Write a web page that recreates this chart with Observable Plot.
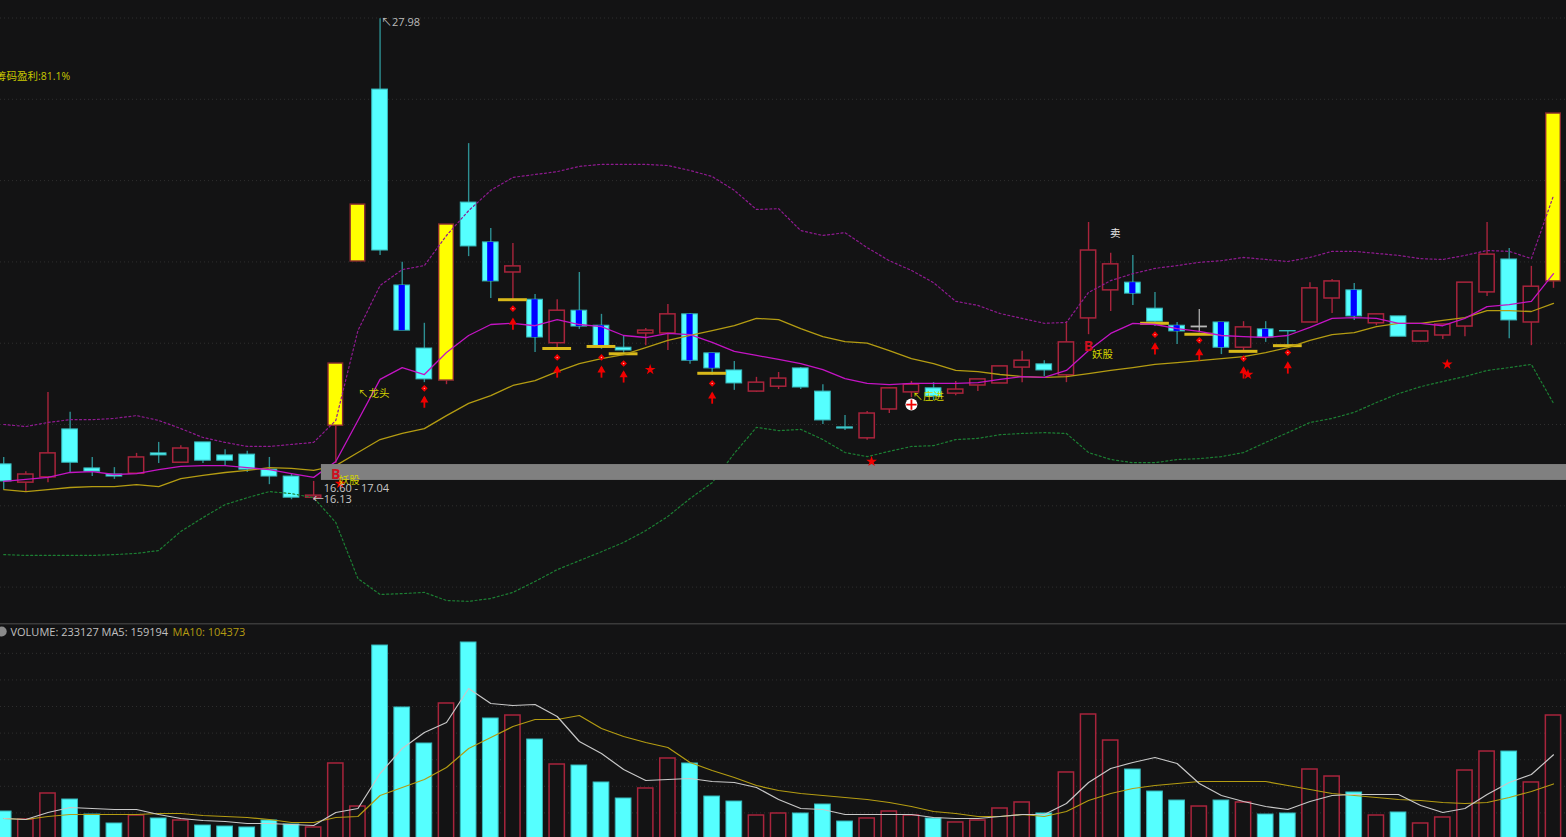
<!DOCTYPE html>
<html><head><meta charset="utf-8">
<script src="https://cdn.jsdelivr.net/npm/d3@7"></script>
<script src="https://cdn.jsdelivr.net/npm/@observablehq/plot@0.6"></script>
<style>
html,body{margin:0;padding:0;background:#131314;overflow:hidden}
svg{display:block}
</style></head><body>
<div id="chart"></div>
<script>
const open_=[17.02,16.57,16.70,17.88,16.92,16.77,16.79,17.29,17.06,17.56,
17.24,17.26,16.89,16.72,16.20,17.97,22.01,26.24,21.42,19.87,
19.08,23.46,22.48,21.74,21.07,20.00,20.80,20.43,19.89,20.24,
20.24,20.71,19.75,19.33,18.81,18.93,19.38,18.81,17.93,17.66,
18.37,18.79,18.89,18.76,18.96,19.01,19.40,19.48,19.21,20.61,
21.30,21.49,20.85,20.43,20.39,20.51,19.89,20.34,20.30,20.51,
21.10,21.30,20.49,20.66,20.04,20.19,20.41,21.25,22.06,20.51,21.52];
const close_=[16.60,16.77,17.29,17.06,16.84,16.72,17.19,17.24,17.41,17.11,
17.11,16.89,16.72,16.20,16.25,19.50,23.41,22.28,20.31,19.11,
22.92,22.38,21.52,21.89,20.14,20.80,20.41,19.92,19.82,20.31,
20.71,19.57,19.38,19.01,19.03,19.13,18.91,18.10,17.90,18.27,
18.89,18.98,18.69,18.86,19.11,19.43,19.57,19.33,20.02,22.28,
21.94,21.22,20.53,20.29,20.41,19.89,20.39,20.14,20.29,21.35,
21.52,20.66,20.71,20.16,20.29,20.46,21.49,22.18,20.56,21.39,25.65];
const high_=[17.19,16.84,18.79,18.30,17.19,16.94,17.29,17.56,17.48,17.56,
17.38,17.34,17.19,16.79,16.60,19.50,23.41,27.98,21.99,20.49,
22.92,24.91,22.82,22.45,21.20,21.07,21.74,20.71,20.19,20.36,
20.95,20.73,19.75,19.55,19.16,19.28,19.40,18.98,18.22,18.32,
18.91,19.06,19.03,19.06,19.11,19.43,19.80,19.57,20.53,22.97,
22.21,22.16,21.25,20.51,20.83,20.51,20.53,20.53,20.30,21.49,
21.57,21.47,20.71,20.66,20.29,20.46,21.49,22.97,22.33,21.89,25.65];
const low_=[16.40,16.33,16.57,16.82,16.72,16.65,16.79,17.04,17.06,17.04,
16.99,16.82,16.52,16.15,16.13,17.04,22.01,22.16,20.31,19.03,
18.98,22.13,21.10,21.07,19.77,19.87,20.34,19.85,19.75,19.94,
19.82,19.48,19.21,18.84,18.79,18.86,18.86,18.00,17.85,17.61,
18.27,18.66,18.59,18.71,18.81,19.01,19.03,19.18,19.03,20.21,
20.78,20.93,20.41,19.97,20.26,19.72,19.82,20.02,19.94,20.51,
20.73,20.56,20.43,20.16,20.02,20.09,20.16,21.15,20.11,19.94,21.35];
const ma5Line=[16.60,16.65,16.70,16.82,16.84,16.77,16.79,16.89,16.97,16.99,
16.99,16.94,16.89,16.79,16.70,17.09,18.10,19.11,19.40,19.23,
19.77,20.19,20.46,20.49,20.43,20.58,20.46,20.41,20.19,20.14,
20.24,20.21,20.02,19.80,19.70,19.60,19.50,19.35,19.13,19.01,
18.98,19.01,19.01,19.01,19.03,19.11,19.18,19.16,19.33,19.82,
20.24,20.49,20.46,20.36,20.29,20.19,20.16,20.14,20.19,20.39,
20.61,20.63,20.61,20.49,20.49,20.43,20.61,20.90,20.95,21.03,21.71];
const ma20Line=[16.40,16.35,16.40,16.45,16.47,16.47,16.52,16.47,16.67,16.75,
16.82,16.87,16.94,16.92,16.87,16.99,17.31,17.63,17.78,17.90,
18.22,18.52,18.71,18.96,19.08,19.30,19.50,19.62,19.72,19.89,
20.07,20.19,20.31,20.43,20.61,20.58,20.36,20.16,20.04,20.00,
19.82,19.62,19.50,19.33,19.30,19.23,19.18,19.16,19.18,19.25,
19.33,19.40,19.48,19.52,19.57,19.62,19.67,19.77,19.89,20.07,
20.21,20.26,20.41,20.49,20.49,20.56,20.63,20.80,20.80,20.78,20.98];
const upperBand=[18.00,17.95,18.05,18.12,18.12,18.15,18.22,18.10,17.90,17.68,
17.56,17.46,17.46,17.51,17.56,18.10,20.31,21.42,21.81,21.91,
22.65,23.26,23.76,24.08,24.15,24.22,24.35,24.40,24.40,24.40,
24.37,24.25,24.10,23.76,23.29,23.31,22.77,22.65,22.72,22.35,
22.03,21.79,21.49,21.03,20.93,20.73,20.61,20.49,20.51,21.25,
21.54,21.71,21.84,21.91,21.99,22.03,22.11,22.06,22.01,22.11,
22.26,22.26,22.21,22.16,22.08,22.06,22.16,22.28,22.26,22.08,23.63];
const lowerBand=[14.80,14.78,14.78,14.78,14.78,14.80,14.83,14.90,15.37,15.71,
16.03,16.20,16.35,16.30,16.20,15.59,14.21,13.82,13.84,13.87,
13.67,13.65,13.72,13.87,14.14,14.43,14.65,14.87,15.10,15.39,
15.74,16.18,16.57,17.29,17.93,17.85,17.88,17.63,17.31,17.21,
17.34,17.46,17.48,17.63,17.66,17.75,17.78,17.80,17.78,17.31,
17.14,17.06,17.06,17.14,17.16,17.21,17.31,17.56,17.80,18.05,
18.15,18.30,18.54,18.76,18.93,19.06,19.18,19.33,19.40,19.48,18.52];
const volumeK=[52.6,37.6,86.5,75.2,47,30.1,45.1,39.5,35.7,26.3,
24.4,22.6,35.7,28.2,22.6,142.9,62,364.7,248.2,180.5,
255.7,370.4,227.5,233.1,188,141,139.1,107.2,77.1,95.9,
152.3,142.9,80.8,71.4,45.1,48.9,48.9,65.8,33.8,39.5,
52.6,45.1,39.5,32,35.7,58.3,69.6,48.9,126,235,
186.1,131.6,90.2,73.3,62,73.3,69.6,47,48.9,131.6,
118.4,88.4,45.1,50.8,30.1,41.4,129.7,165.4,165.4,107.2,233.127];
const volMa5K=[39.5,37.6,50.8,60.2,58.3,56.4,56.4,47,39.5,35.7,
33.8,30.1,30.1,28.2,26.3,50.8,58.3,124.1,171.1,201.2,
220,283.9,255.7,251.9,253.8,231.2,184.2,161.7,131.6,110.9,
112.8,114.7,109,107.2,97.8,75.2,58.3,56.4,47,47,
47,47,41.4,39.5,39.5,43.2,47,47,67.7,107.2,
133.5,144.8,154.2,142.9,105.3,82.7,71.4,62,56.4,71.4,
82.7,84.6,84.6,84.6,63.9,50.8,58.3,84.6,107.2,122.2,159.194];
const volMa10K=[39.5,37.6,43.2,47,47,47,47,48.9,48.9,45.1,
43.2,41.4,37.6,32,32,41.4,43.2,82.7,97.8,112.8,
135.4,171.1,191.8,212.4,225.6,225.6,233.1,208.7,193.6,182.4,
173,144.8,129.7,116.6,101.5,92.1,86.5,82.7,79,75.2,
69.6,62,52.6,48.9,43.2,43.2,47,43.2,52.6,73.3,
86.5,95.9,101.5,105.3,109,109,109,109,101.5,94,
86.5,82.7,79,75.2,73.3,69.6,67.7,69.6,79,90.2,104.373];
const yellowCandles=[15,16,20,70];
const blueCandles=[18,22,24,26,27,31,32,51,53,55,57,61];
const grayCandles=[54];
const goldBarIdx=[23,25,27,28,32,52,54,56,58];
const goldBarPrice=[21.07,19.87,19.92,19.74,19.26,20.49,20.22,19.80,19.94];
const diamondIdx=[19,23,25,27,28,32,52,54,56,58];
const diamondPrice=[18.89,20.85,19.65,19.65,19.50,19.01,20.21,20.07,19.62,19.77];
const arrowIdx=[19,23,25,27,28,32,52,54,56,58];
const arrowTip=[18.66,20.58,19.40,19.40,19.28,18.76,19.97,19.82,19.38,19.50];
const starIdx=[15.2,29.2,39.2,56.2,65.2];
const starPrice=[16.55,19.35,17.09,19.23,19.48];
const costBand=[16.60,17.04];
const priceGrid=[14,16,18,20,22,24,26,28];
const volGrid=[50,100,150,200,250,300,350];

const BG="#131314",CYAN="#55ffff",RED="#a8243c",WUP="#a8243c",TEAL="#2d8f92",FONT="'Open Sans','Noto Sans CJK SC',sans-serif";
const rows=open_.map((o,i)=>({i,o,c:close_[i],h:high_[i],l:low_[i],v:volumeK[i],up:close_[i]>=o,
  m5:ma5Line[i],m20:ma20Line[i],u:upperBand[i],d:lowerBand[i],v5:volMa5K[i],v10:volMa10K[i]}));
const isY=d=>yellowCandles.includes(d.i), isG=d=>grayCandles.includes(d.i);
const ups=rows.filter(d=>d.up&&!isY(d)&&!isG(d)), downs=rows.filter(d=>!d.up), yellows=rows.filter(isY), grays=rows.filter(isG);
const blues=rows.filter(d=>blueCandles.includes(d.i));
const goldBars=goldBarIdx.map((i,k)=>({i,p:goldBarPrice[k]}));
const diamonds=diamondIdx.map((i,k)=>({i,p:diamondPrice[k]}));
const arrows=arrowIdx.map((i,k)=>({i,p:arrowTip[k]}));
const stars=starIdx.map((i,k)=>({i,p:starPrice[k]}));
const xScale={type:"linear",domain:[0,70],range:[3.2,1553],axis:null};
const half=d=>({x1:e=>e.i-d,x2:e=>e.i+d});
const label=(text,i,p,o)=>Plot.text([{i,p}],{x:"i",y:"p",text:()=>text,lineAnchor:"middle",...o});

const price=Plot.plot({width:1566,height:623,margin:0,x:xScale,
 y:{type:"linear",domain:[28.4305,13.105],range:[0,623],axis:null},
 style:{background:BG,fontFamily:FONT},
 marks:[
  Plot.ruleY(priceGrid,{stroke:"#2f2f2f",strokeDasharray:"1 3",strokeWidth:1}),
  Plot.ruleX(ups,{x:"i",y1:"l",y2:"h",stroke:WUP,strokeWidth:1.4}),
  Plot.ruleX(yellows,{x:"i",y1:"l",y2:"h",stroke:WUP,strokeWidth:1.4}),
  Plot.ruleX(downs,{x:"i",y1:"l",y2:"h",stroke:TEAL,strokeWidth:1.4}),
  Plot.ruleX(grays,{x:"i",y1:"l",y2:"h",stroke:"#b8b8b8",strokeWidth:1.2}),
  Plot.rect(ups,{...half(.345),y1:"o",y2:"c",fill:BG,stroke:RED,strokeWidth:1.5}),
  Plot.rect(grays,{...half(.345),y1:"o",y2:"c",fill:"#b8b8b8",stroke:"#b8b8b8",strokeWidth:1}),
  Plot.rect(downs,{...half(.355),y1:"o",y2:"c",fill:CYAN,stroke:"#37b8bb",strokeWidth:1}),
  Plot.rect(yellows,{...half(.33),y1:"o",y2:"c",fill:"#ffff00",stroke:"#8a2a30",strokeWidth:1.4}),
  Plot.rect(blues,{...half(.14),y1:"o",y2:"c",fill:"#0000ff"}),
  Plot.ruleY(goldBars,{y:"p",x1:d=>d.i-.65,x2:d=>d.i+.65,stroke:"#d9b91a",strokeWidth:3}),
  Plot.line(rows,{x:"i",y:"u",stroke:"#8f1a90",strokeWidth:1.2,strokeDasharray:"2 2.5"}),
  Plot.line(rows,{x:"i",y:"d",stroke:"#1c7f33",strokeWidth:1.2,strokeDasharray:"2 2.5"}),
  Plot.line(rows,{x:"i",y:"m20",stroke:"#b49c12",strokeWidth:1.3}),
  Plot.line(rows,{x:"i",y:"m5",stroke:"#c414c4",strokeWidth:1.3}),
  Plot.rect([0],{x1:()=>14.35,x2:()=>71.5,y1:()=>costBand[0],y2:()=>costBand[1],fill:"#808080",insetTop:1,insetBottom:1}),
  Plot.dot(diamonds,{x:"i",y:"p",symbol:"diamond2",r:3,fill:"#f00000"}),
  Plot.dot(diamonds,{x:"i",y:"p",r:.7,fill:"#ffb0b0"}),
  Plot.ruleX(arrows,{x:"i",y1:"p",y2:d=>d.p-.26,stroke:"#f00000",strokeWidth:1.8}),
  Plot.dot(arrows,{x:"i",y:"p",dy:2.5,symbol:"triangle",r:3,fill:"#f00000"}),
  Plot.dot(stars,{x:"i",y:"p",symbol:"star",r:3.4,fill:"#f00000"}),
  Plot.dot([0],{x:()=>41,y:()=>18.49,r:6,fill:"#fff"}),
  Plot.dot([0],{x:()=>41,y:()=>18.49,symbol:"plus",r:3.4,stroke:"#f00000",strokeWidth:1.8}),
  label("筹码盈利:81.1%",3,26.56,{textAnchor:"end",fontSize:10.5,fill:"#c8c800"}),
  label("↖27.98",17,27.88,{textAnchor:"start",dx:1,fontSize:11,fill:"#bbbbbb"}),
  label("↖龙头",16,18.76,{textAnchor:"start",dx:0,fontSize:10.5,fill:"#d4d400"}),
  label("B",15,16.77,{fontSize:14,fontWeight:"bold",fill:"#cf1020"}),
  label("妖股",15,16.62,{textAnchor:"start",dx:3,fontSize:10.5,fill:"#d4d400"}),
  label("16.60 - 17.04",14,16.42,{textAnchor:"start",dx:10,fontSize:11,fill:"#c8c8c8"}),
  label("←16.13",14,16.16,{textAnchor:"start",dx:-1,fontSize:11,fill:"#c8c8c8"}),
  label("B",49,19.92,{fontSize:14,fontWeight:"bold",fill:"#cf1020"}),
  label("妖股",49,19.72,{textAnchor:"start",dx:3.5,fontSize:10.5,fill:"#d4d400"}),
  label("卖",50,22.70,{dx:4.5,fontSize:10.5,fill:"#e8e8e8"}),
  label("↖庄进",41,18.69,{textAnchor:"start",dx:1,fontSize:10.5,fill:"#d4d400"})
 ]});

const vol=Plot.plot({width:1566,height:214,margin:0,x:xScale,
 y:{type:"linear",domain:[406.08,3.76],range:[0,214],axis:null},
 style:{background:BG,fontFamily:FONT},
 marks:[
  Plot.ruleY(volGrid,{stroke:"#2f2f2f",strokeDasharray:"1 3",strokeWidth:1}),
  Plot.ruleY([406.08],{stroke:"#3a3a3a",strokeWidth:2}),
  Plot.rect(rows.filter(d=>d.up),{...half(.345),y1:()=>0,y2:"v",fill:BG,stroke:RED,strokeWidth:1.5}),
  Plot.rect(rows.filter(d=>!d.up),{...half(.355),y1:()=>0,y2:"v",fill:CYAN,stroke:"#37b8bb",strokeWidth:1}),
  Plot.line(rows,{x:"i",y:"v10",stroke:"#b49c12",strokeWidth:1.2}),
  Plot.line(rows,{x:"i",y:"v5",stroke:"#c8c8c8",strokeWidth:1.2}),
  Plot.dot([0],{x:()=>0,y:()=>391,dx:-2,r:5,fill:"#8a8a8a"}),
  Plot.text(["VOLUME: 233127"],{frameAnchor:"top-left",dx:10,dy:5,fontSize:11,fill:"#c0c0c0"}),
  Plot.text(["MA5: 159194"],{frameAnchor:"top-left",dx:101,dy:5,fontSize:11,fill:"#c0c0c0"}),
  Plot.text(["MA10: 104373"],{frameAnchor:"top-left",dx:172,dy:5,fontSize:11,fill:"#b49c12"})
 ]});
document.getElementById("chart").append(price,vol);
</script></body></html>
